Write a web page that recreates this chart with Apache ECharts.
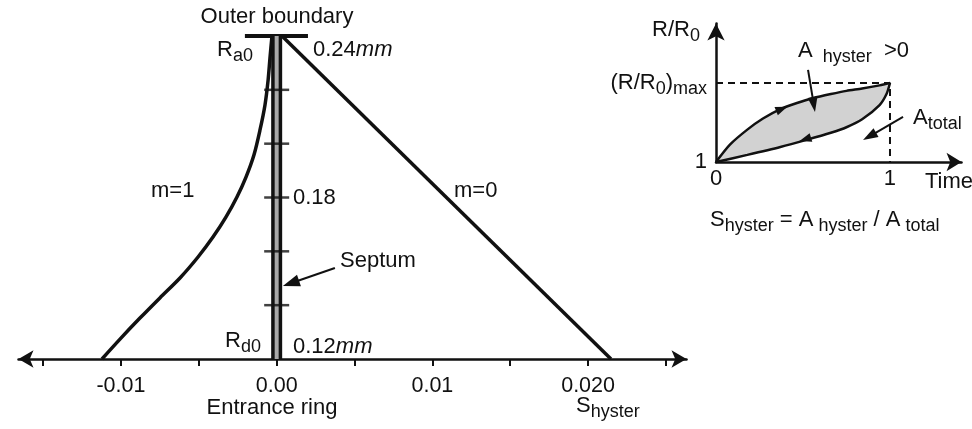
<!DOCTYPE html>
<html><head><meta charset="utf-8">
<script src="https://cdn.jsdelivr.net/npm/echarts@6/dist/echarts.min.js"></script>
<style>html,body{margin:0;padding:0;background:#fff}#c{width:972px;height:429px}</style>
</head><body><div id="c"></div>
<script>
// ---------------- data ----------------
// main panel: x = S_hyster, y = radius (mm)
const m1S = [-0.01122,-0.01006,-0.00878,-0.00750,-0.00621,-0.00505,-0.00409,-0.00326,-0.00255,-0.00197,-0.00146,-0.00107,-0.00075,-0.00055,-0.00043,-0.00030];
const m1R = [0.1200,0.1274,0.1352,0.1427,0.1501,0.1579,0.1653,0.1727,0.1802,0.1876,0.1958,0.2051,0.2144,0.2236,0.2318,0.2400];
const m0S = [0.00034, 0.02147];
const m0R = [0.2400, 0.1200];
const septumS = [0, 0];
const septumR = [0.12, 0.24];
const septumTickR = [0.14, 0.16, 0.18, 0.20, 0.22];
const boundaryS = [-0.00204, 0.00201];
const boundaryR = [0.24, 0.24];
const xTickValues = [-0.015,-0.01,-0.005,0,0.005,0.01,0.015,0.02,0.025];
const xLabelValues = [-0.01, 0, 0.01, 0.02];
const xLabels = ['-0.01', '0.00', '0.01', '0.020'];
const septumArrow = [[0.00374, 0.1538, 0.0004, 0.1471]];

// inset panel: x = time (0..1), y = normalised R/R0 (0 -> 1, 1 -> (R/R0)max)
const upperT = [0,0.08,0.18,0.27,0.37,0.47,0.56,0.66,0.75,0.84,0.94,1];
const upperU = [0,0.22,0.41,0.55,0.67,0.75,0.81,0.86,0.90,0.93,0.97,1];
const lowerT = [0,0.18,0.37,0.52,0.66,0.75,0.84,0.94,0.98,1];
const lowerU = [0,0.09,0.19,0.28,0.37,0.44,0.54,0.72,0.86,1];
const dashT = [0, 1, 1];
const dashU = [1, 1, 0];
const insetXLabelValues = [0, 1];
const insetXLabels = ['0', '1'];
const insetYLabelValues = [0, 1];
const curveHeads = [[0.33,0.63,0.41,0.70],[0.56,0.32,0.48,0.265]];
const insetArrows = [[0.529,1.165,0.569,0.633],[1.075,0.57,0.845,0.278]];

// ---------------- helpers ----------------
const FONT = '"Liberation Sans", Arial, Helvetica, sans-serif';
const INK = '#111';
const LH = 30;
const zip = (a, b) => a.map((v, i) => [v, b[i]]);
function richSet(ms, ss, d) {
  return {
    m: {fontSize: ms, fontFamily: FONT, lineHeight: LH, fill: INK, color: INK},
    i: {fontSize: ms, fontFamily: FONT, fontStyle: 'italic', lineHeight: LH, fill: INK, color: INK},
    s: {fontSize: ss, fontFamily: FONT, lineHeight: Math.max(1, LH - 2 * d), verticalAlign: 'bottom', fill: INK, color: INK}
  };
}
function label(x, y, tokens, opt) {
  opt = opt || {};
  const ms = opt.size || 22, ss = opt.sub || 18, d = opt.drop == null ? 7 : opt.drop;
  const al = opt.align || 'left';
  return {
    type: 'text', x: x, y: y, silent: true, z: 50,
    style: {
      text: tokens.map(t => '{' + t[1] + '|' + t[0] + '}').join(''),
      rich: richSet(ms, ss, d), font: ms + 'px ' + FONT, fill: INK,
      align: al, verticalAlign: 'middle', textAlign: al, textVerticalAlign: 'middle'
    }
  };
}
function nearest(vals, v) {
  let bi = 0;
  vals.forEach((x, i) => { if (Math.abs(x - v) < Math.abs(vals[bi] - v)) bi = i; });
  return bi;
}
function arrowSeries(data, xi, yi, o) {
  return {
    type: 'custom', coordinateSystem: 'cartesian2d', xAxisIndex: xi, yAxisIndex: yi,
    silent: true, z: 8, clip: false, encode: {x: [0, 2], y: [1, 3]}, data: data,
    renderItem: function (params, api) {
      const a = api.coord([api.value(0), api.value(1)]);
      const b = api.coord([api.value(2), api.value(3)]);
      const dx = b[0] - a[0], dy = b[1] - a[1], len = Math.hypot(dx, dy) || 1;
      const ux = dx / len, uy = dy / len, nx = -uy, ny = ux;
      const bx = b[0] - ux * o.head, by = b[1] - uy * o.head;
      const ch = [];
      if (o.line) ch.push({type: 'line', shape: {x1: a[0], y1: a[1], x2: bx + ux, y2: by + uy}, style: {stroke: INK, lineWidth: o.lw}});
      ch.push({type: 'polygon', shape: {points: [[b[0], b[1]], [bx + nx * o.wid / 2, by + ny * o.wid / 2], [bx - nx * o.wid / 2, by - ny * o.wid / 2]]}, style: {fill: INK}});
      return {type: 'group', children: ch};
    }
  };
}
function lineSeries(data, xi, yi, w, extra) {
  return Object.assign({
    type: 'line', xAxisIndex: xi, yAxisIndex: yi, data: data, symbol: 'none', silent: true,
    clip: false, lineStyle: {color: INK, width: w}, z: 3
  }, extra || {});
}

// ---------------- chart ----------------
const chart = echarts.init(document.getElementById('c'));
const option = {
  animation: false,
  backgroundColor: '#fff',
  grid: [
    {left: 18.5, top: 36, width: 668, height: 323},
    {left: 716, top: 23.5, width: 245.5, height: 138.5}
  ],
  xAxis: [
    {
      gridIndex: 0, type: 'value', min: -0.01658, max: 0.02632,
      axisLine: {show: true, onZero: false, symbol: ['arrow', 'arrow'], symbolSize: [13, 15], lineStyle: {color: INK, width: 2.5}},
      axisTick: {show: true, customValues: xTickValues, length: 7, inside: false, lineStyle: {color: INK, width: 2}},
      axisLabel: {show: true, customValues: xLabelValues, margin: 16, fontSize: 21.5, fontFamily: FONT, color: INK,
        formatter: v => xLabels[nearest(xLabelValues, v)]},
      splitLine: {show: false}
    },
    {
      gridIndex: 1, type: 'value', min: 0, max: 1.411,
      axisLine: {show: true, onZero: false, symbol: ['none', 'arrow'], symbolSize: [14, 15], lineStyle: {color: INK, width: 2.5}},
      axisTick: {show: false},
      axisLabel: {show: true, customValues: insetXLabelValues, margin: 6, fontSize: 22, fontFamily: FONT, color: INK,
        formatter: v => insetXLabels[nearest(insetXLabelValues, v)]},
      splitLine: {show: false}
    }
  ],
  yAxis: [
    {gridIndex: 0, type: 'value', min: 0.12, max: 0.24, show: false},
    {
      gridIndex: 1, type: 'value', min: 0, max: 1.753,
      axisLine: {show: true, onZero: false, symbol: ['none', 'arrow'], symbolSize: [13, 17], lineStyle: {color: INK, width: 2.5}},
      axisTick: {show: false},
      axisLabel: {show: true, customValues: insetYLabelValues, margin: 9,
        formatter: v => nearest(insetYLabelValues, v) === 0 ? '{m|1}' : '{m|(R/R}{s|0}{m|)}{s|max}',
        rich: richSet(22, 18, 8)},
      splitLine: {show: false}
    }
  ],
  series: [
    lineSeries(zip(m1S, m1R), 0, 0, 3.5, {smooth: 0.3}),
    lineSeries(zip(m0S, m0R), 0, 0, 3.5),
    lineSeries(zip(boundaryS, boundaryR), 0, 0, 4),
    lineSeries(zip(septumS, septumR), 0, 0, 11, {z: 4}),
    lineSeries(zip(septumS, septumR), 0, 0, 4, {z: 5, lineStyle: {color: '#a9a9a9', width: 4}}),
    {type: 'scatter', xAxisIndex: 0, yAxisIndex: 0, data: septumTickR.map(r => [0, r]), symbol: 'rect',
      symbolSize: [25, 2.5], itemStyle: {color: INK}, silent: true, z: 6},
    arrowSeries(septumArrow, 0, 0, {line: true, lw: 2, head: 17, wid: 12}),
    // inset
    {type: 'custom', coordinateSystem: 'cartesian2d', xAxisIndex: 1, yAxisIndex: 1, data: [[0, 0]], encode: {x: 0, y: 1},
      silent: true, z: 1, clip: false,
      renderItem: function (params, api) {
        const pts = [];
        upperT.forEach((t, i) => pts.push(api.coord([t, upperU[i]])));
        for (let i = lowerT.length - 1; i >= 0; i--) pts.push(api.coord([lowerT[i], lowerU[i]]));
        return {type: 'polygon', shape: {points: pts}, style: {fill: '#d2d2d2'}};
      }},
    lineSeries(zip(dashT, dashU), 1, 1, 2, {z: 2, lineStyle: {color: INK, width: 2, type: [7, 5]}}),
    lineSeries(zip(upperT, upperU), 1, 1, 2.5, {smooth: 0.25}),
    lineSeries(zip(lowerT, lowerU), 1, 1, 2.5, {smooth: 0.25}),
    arrowSeries(curveHeads, 1, 1, {line: false, head: 12, wid: 9}),
    arrowSeries(insetArrows, 1, 1, {line: true, lw: 2, head: 15, wid: 10})
  ],
  graphic: [
    label(277, 17, [['Outer boundary', 'm']], {align: 'center'}),
    label(217, 50, [['R', 'm'], ['a0', 's']], {drop: 7.4}),
    label(313, 50, [['0.24', 'm'], ['mm', 'i']]),
    label(293, 198, [['0.18', 'm']]),
    label(340, 261, [['Septum', 'm']]),
    label(225, 341, [['R', 'm'], ['d0', 's']], {drop: 7.4}),
    label(293, 347, [['0.12', 'm'], ['mm', 'i']]),
    label(151, 191, [['m=1', 'm']]),
    label(454, 191, [['m=0', 'm']]),
    label(272, 408, [['Entrance ring', 'm']], {align: 'center'}),
    label(576, 406, [['S', 'm'], ['hyster', 's']], {drop: 9}),
    label(652, 30, [['R/R', 'm'], ['0', 's']], {drop: 10}),
    label(925, 182, [['Time', 'm']]),
    label(798, 51, [['A', 'm'], ['  hyster', 's'], ['  >0', 'm']], {drop: 5.5}),
    label(913, 118, [['A', 'm'], ['total', 's']], {drop: 8}),
    label(710, 220, [['S', 'm'], ['hyster', 's'], [' = A', 'm'], [' hyster', 's'], [' / A', 'm'], [' total', 's']], {drop: 9.5})
  ]
};
chart.setOption(option);
</script>
</body></html>
